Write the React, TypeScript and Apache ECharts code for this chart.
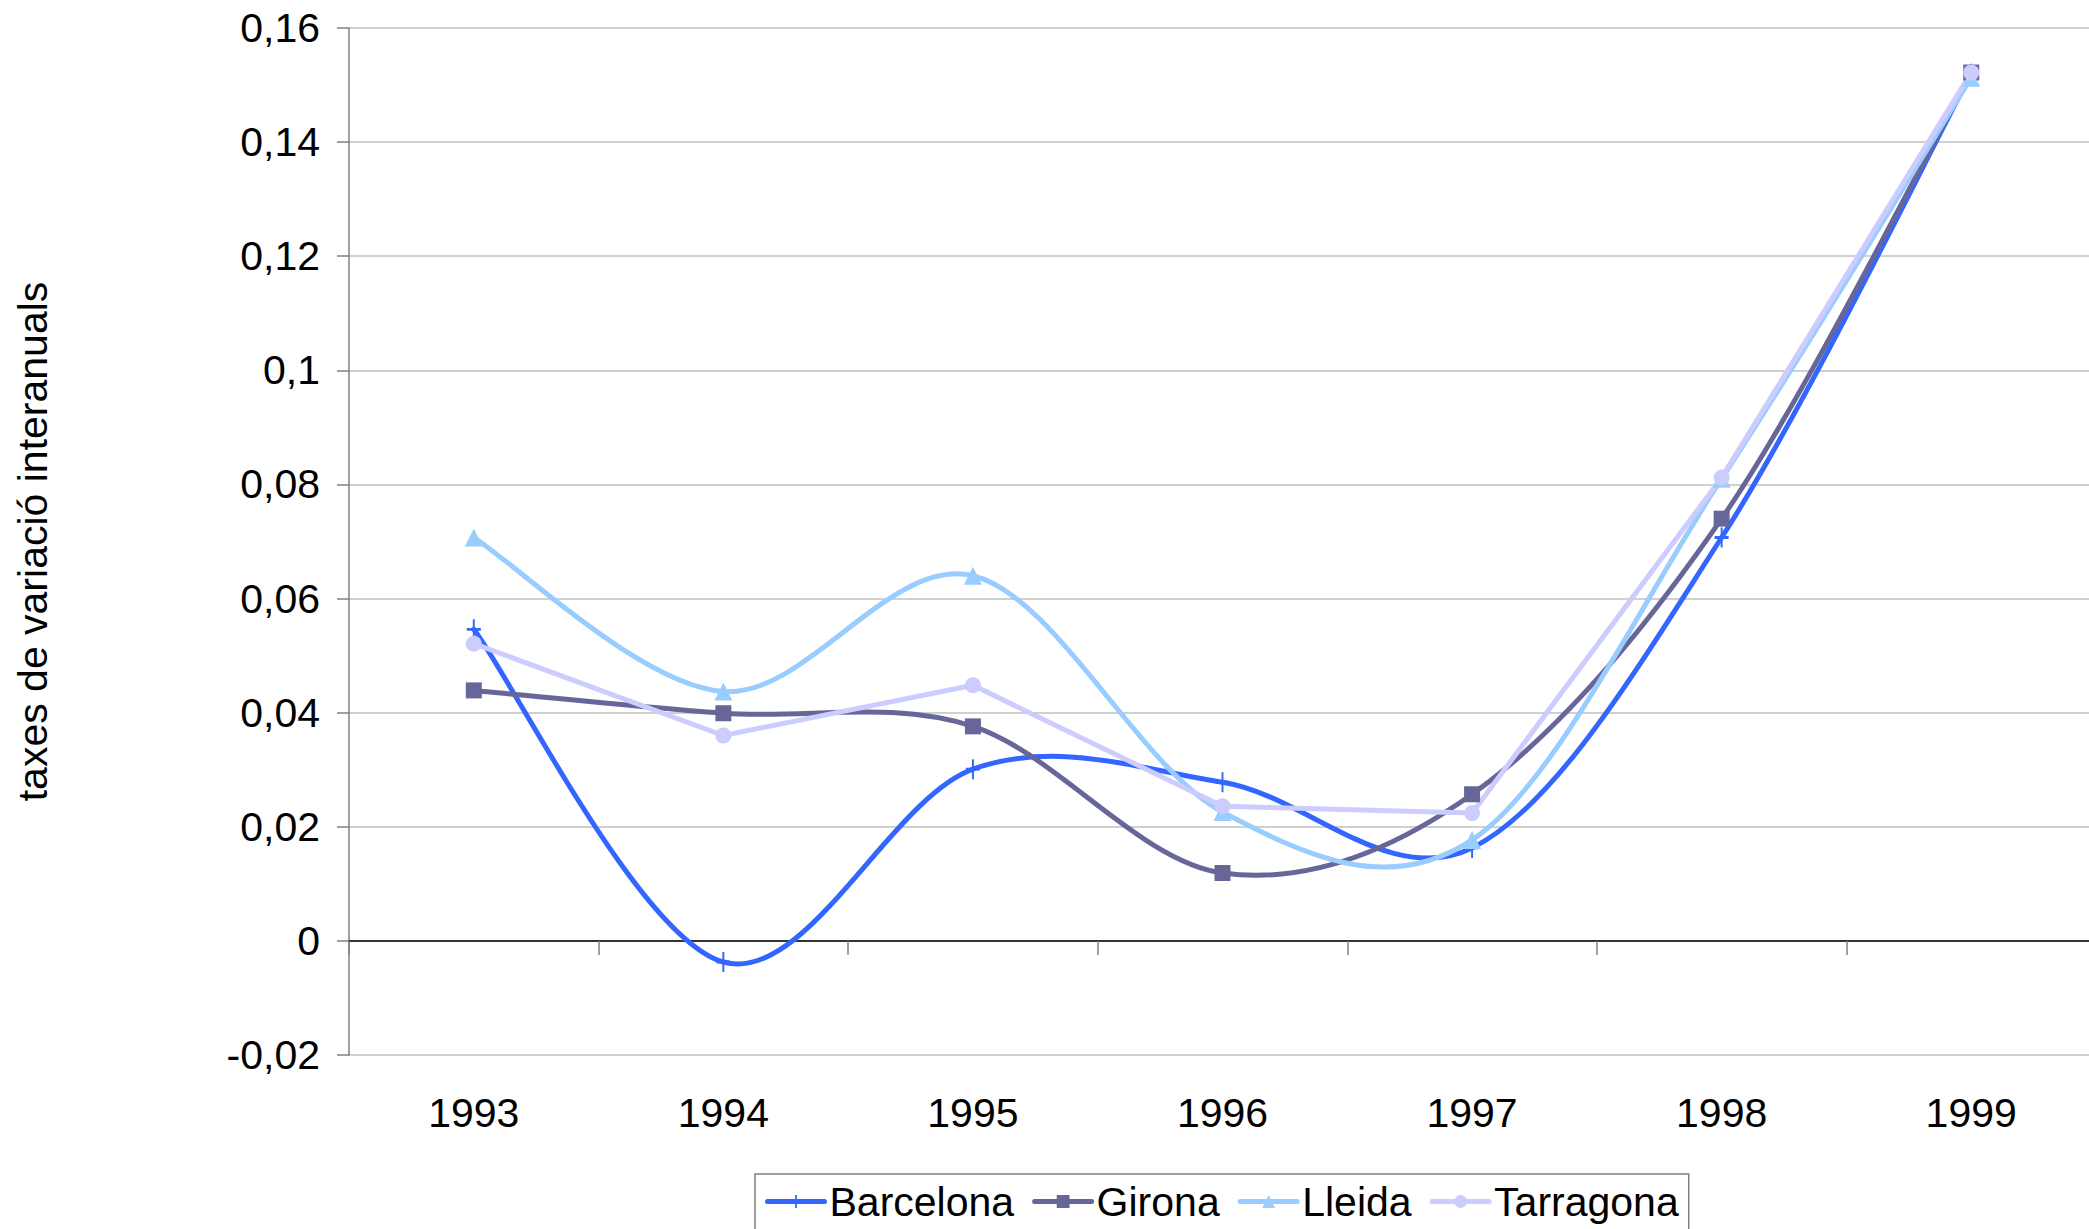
import React, { useEffect, useRef } from "react";
import * as echarts from "echarts";

const years = ["1993", "1994", "1995", "1996", "1997", "1998", "1999"];
const barcelona = [0.0546, -0.0037, 0.0301, 0.0278, 0.0163, 0.0707, 0.152];
const girona = [0.0439, 0.0399, 0.0376, 0.0119, 0.0257, 0.074, 0.1522];
const lleida = [0.0707, 0.0437, 0.064, 0.0226, 0.0177, 0.081, 0.1513];
const tarragona = [0.0521, 0.036, 0.0448, 0.0236, 0.0224, 0.0812, 0.1522];

const yMin = -0.02;
const yMax = 0.16;
const yStep = 0.02;
const yTitle = "taxes de variació interanuals";
const seriesNames = ["Barcelona", "Girona", "Lleida", "Tarragona"];

const FONT = "Liberation Sans, Arial, sans-serif";
const FS = 41;
const LW = 5;
const plusPath =
  "path://M4.3,0 L5.7,0 L5.7,4.3 L10,4.3 L10,5.7 L5.7,5.7 L5.7,10 L4.3,10 L4.3,5.7 L0,5.7 L0,4.3 L4.3,4.3 Z";

// Excel-like smoothed curve (Catmull-Rom style bezier) drawn via a custom series
function curveSeries(name: string, values: number[], color: string) {
  return {
    name: name + " (curve)",
    type: "custom",
    coordinateSystem: "cartesian2d",
    data: values.map((v, i) => [i, v]),
    encode: { x: 0, y: 1 },
    silent: true,
    clip: false,
    renderItem: (params: any, api: any) => {
      const i = api.value(0);
      const n = values.length;
      if (i >= n - 1) return null;
      const P = (k: number) => {
        const kk = Math.max(0, Math.min(n - 1, k));
        return api.coord([kk, values[kk]]);
      };
      const p0 = P(i - 1);
      const p1 = P(i);
      const p2 = P(i + 1);
      const p3 = P(i + 2);
      return {
        type: "bezierCurve",
        shape: {
          x1: p1[0],
          y1: p1[1],
          x2: p2[0],
          y2: p2[1],
          cpx1: p1[0] + (p2[0] - p0[0]) / 6,
          cpy1: p1[1] + (p2[1] - p0[1]) / 6,
          cpx2: p2[0] - (p3[0] - p1[0]) / 6,
          cpy2: p2[1] - (p3[1] - p1[1]) / 6,
        },
        style: { stroke: color, lineWidth: LW, fill: "none", lineCap: "round" },
      };
    },
  };
}

export default function App() {
  const ref = useRef<HTMLDivElement>(null);
  useEffect(() => {
    if (!ref.current) return;
    const chart = echarts.init(ref.current, null, { renderer: "svg" });
    const fmt = (v: number) => String(Number(v.toFixed(2))).replace(".", ",");
    const markers = (name: string, data: number[], color: string, symbol: string, size: any, showLine: boolean) => ({
      name,
      type: "line",
      data,
      smooth: false,
      symbol,
      symbolSize: size,
      showAllSymbol: true,
      lineStyle: { color, width: LW, opacity: showLine ? 1 : 0, cap: "round" },
      itemStyle: { color, borderWidth: 0 },
      emphasis: { disabled: true },
    });
    chart.setOption({
      animation: false,
      textStyle: { fontFamily: FONT },
      grid: { left: 349, top: 28, right: -7, bottom: 174, containLabel: false, outerBoundsMode: "none" },
      legend: {
        left: 755,
        top: 1174,
        orient: "horizontal",
        itemWidth: 57,
        itemHeight: 16,
        itemGap: 18,
        padding: [7, 10, 30, 10],
        borderColor: "#808080",
        borderWidth: 1.5,
        lineStyle: { opacity: 1, width: LW },
        textStyle: { fontSize: FS, color: "#000", fontFamily: FONT, padding: [0, 0, 0, 0] },
        data: seriesNames,
      },
      xAxis: [
        {
          type: "category",
          data: years,
          boundaryGap: true,
          position: "bottom",
          axisLine: { show: false, onZero: false },
          axisTick: { show: false },
          axisLabel: { fontSize: FS, color: "#000", margin: 37, fontFamily: FONT },
          splitLine: { show: false },
        },
        {
          type: "category",
          data: years,
          boundaryGap: true,
          position: "bottom",
          axisLine: { show: true, onZero: true, lineStyle: { color: "#000", width: 1.5 } },
          axisTick: { show: true, length: 14, lineStyle: { color: "#808080", width: 1.5 } },
          axisLabel: { show: false },
          splitLine: { show: false },
        },
      ],
      yAxis: {
        type: "value",
        min: yMin,
        max: yMax,
        interval: yStep,
        name: yTitle,
        nameLocation: "middle",
        nameRotate: 90,
        nameGap: 296,
        nameTextStyle: { fontSize: FS, color: "#000", fontFamily: FONT },
        axisLine: { show: true, lineStyle: { color: "#808080", width: 1.5 } },
        axisTick: { show: true, length: 12, lineStyle: { color: "#808080", width: 1.5 } },
        axisLabel: { fontSize: FS, color: "#000", margin: 29, formatter: fmt, fontFamily: FONT },
        splitLine: { show: true, lineStyle: { color: "#c0c0c0", width: 1.5 } },
      },
      series: [
        curveSeries("Barcelona", barcelona, "#3366FF"),
        markers("Barcelona", barcelona, "#3366FF", plusPath, [14, 20], false),
        curveSeries("Girona", girona, "#666699"),
        markers("Girona", girona, "#666699", "rect", 16, false),
        curveSeries("Lleida", lleida, "#99CCFF"),
        markers("Lleida", lleida, "#99CCFF", "triangle", 18, false),
        markers("Tarragona", tarragona, "#CCCCFF", "circle", 16, true),
      ],
    });
    return () => chart.dispose();
  }, []);
  return (
    <div
      ref={ref}
      style={{ position: "fixed", left: 0, top: 0, width: 2089, height: 1229, background: "#fff" }}
    />
  );
}
